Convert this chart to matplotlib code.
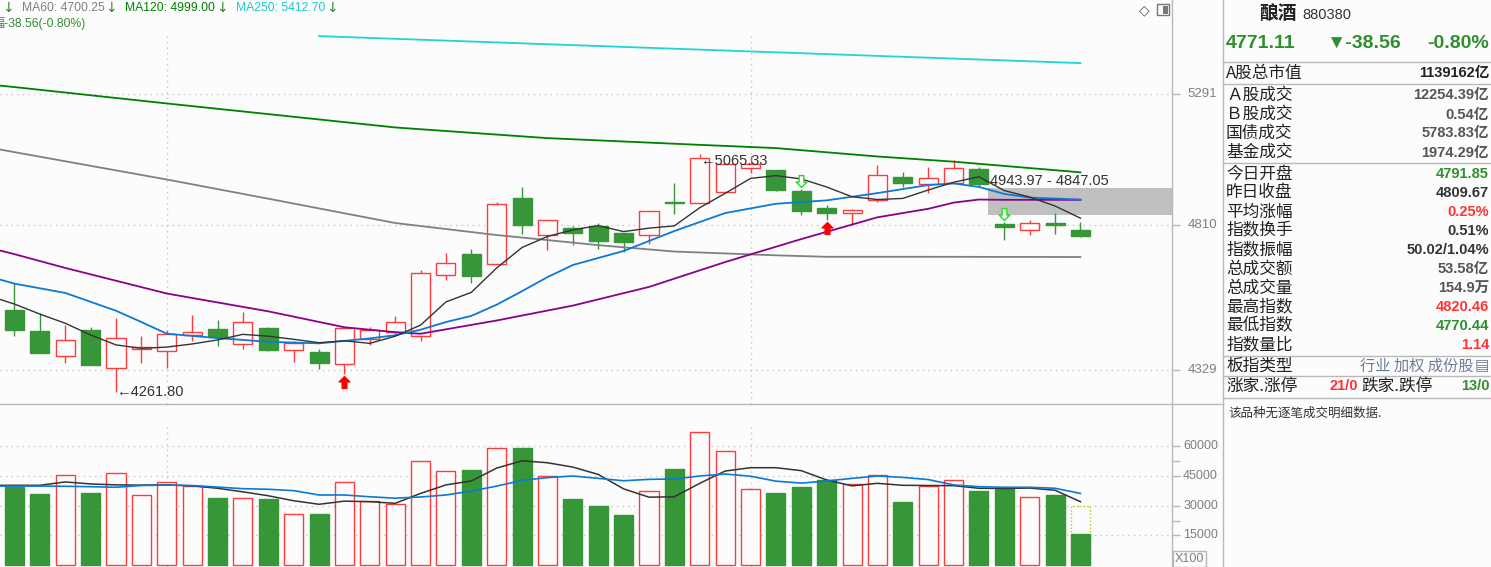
import matplotlib.pyplot as plt
import matplotlib.transforms as mtransforms
from matplotlib.lines import Line2D
from matplotlib.patches import Rectangle
from matplotlib.path import Path
from matplotlib.ticker import FixedLocator, NullLocator, NullFormatter

plt.rcParams['font.family'] = ['Liberation Sans', 'Noto Sans CJK SC', 'DejaVu Sans']

# daily bars, index 0 = leftmost candle
opens = [4523, 4454, 4372, 4457, 4337, 4397, 4389, 4442, 4460, 4412,
         4464, 4392, 4385, 4349, 4428, 4450, 4437, 4639, 4711, 4678,
         4907, 4775, 4800, 4808, 4783, 4775, 4891, 4887, 4928, 5016,
         5008, 4931, 4871, 4853, 4898, 4983, 4955, 4959, 5011, 4815,
         4794, 4818, 4791.85]
highs = [4611, 4514, 4473, 4467, 4496, 4438, 4457, 4506, 4490, 4515,
         4466, 4422, 4395, 4468, 4468, 4503, 4656, 4715, 4728, 4892,
         4946, 4828, 4808, 4817, 4783, 4859, 4960, 5065.33, 5032, 5057,
         5008, 4937, 4881, 4868, 5024, 5001, 5020, 5044, 5020, 4823,
         4829, 4852, 4820.46]
lows = [4438, 4383, 4352, 4346, 4261.80, 4352, 4337, 4420, 4406, 4395,
        4391, 4355, 4333, 4316, 4408, 4444, 4423, 4622, 4611, 4678,
        4780, 4725, 4741, 4728, 4716, 4746, 4851, 4887, 4928, 4997,
        4932, 4847, 4828, 4811, 4893, 4946, 4926, 4959, 4948, 4759,
        4776, 4780, 4770.44]
closes = [4457, 4383, 4425, 4346, 4430, 4401, 4444, 4451, 4434, 4483,
          4394, 4416, 4352, 4463, 4458, 4483, 4646, 4680, 4635, 4884,
          4812, 4828, 4784, 4756, 4753, 4859, 4889, 5053, 5028, 5030,
          4935, 4861, 4852, 4864, 4990, 4962, 4980, 5014, 4958, 4803,
          4819, 4809.67, 4771.11]
volumes = [39600, 35900, 45300, 36400, 46400, 35200, 41800, 39900, 33900, 33700,
           33400, 25600, 25800, 41800, 32400, 30700, 52400, 47400, 48000, 59000,
           59200, 44800, 33400, 29800, 25300, 37300, 48500, 67100, 57500, 38300,
           36400, 39400, 43000, 40800, 45300, 31900, 39900, 42800, 37400, 38400,
           34200, 35400, 15490]
vol_forecast = 29800

# moving averages, one value per day from index -1
ma_idx = list(range(-1, 43))
ma5 = [4569, 4542, 4509, 4479, 4441, 4409, 4398, 4402, 4412, 4425,
       4443, 4437, 4427, 4416, 4422, 4414, 4437, 4473, 4549, 4581,
       4663, 4733, 4771, 4794, 4809, 4788, 4800, 4808, 4872, 4923,
       4977, 4987, 4975, 4946, 4911, 4901, 4905, 4935, 4963, 4983,
       4933, 4910, 4878, 4835]
vol_ma5 = [40300, 40300, 40300, 42000, 41000, 40500, 40400, 40500, 40000, 38800,
           37000, 35000, 32500, 30700, 32300, 32000, 31200, 36200, 40500, 42500,
           49000, 52700, 51700, 49500, 45800, 38500, 34300, 34500, 41300, 47500,
           49200, 49200, 47700, 43000, 40000, 41300, 40300, 40200, 40100, 38800,
           38700, 38900, 37800, 32000]
vol_ma10 = [39900, 39900, 39900, 39800, 39600, 39300, 40200, 40400, 40200, 39400,
            38600, 38300, 37600, 35400, 35400, 34500, 33800, 34400, 35400, 37400,
            39900, 42800, 44200, 45000, 43800, 42600, 43300, 43500, 45000, 46000,
            44900, 42400, 41400, 42500, 43800, 45000, 44300, 43200, 40500, 39600,
            39300, 39300, 38800, 36200]

# longer averages, read at a few days
ma10_idx = [-1, 0, 2, 4, 5, 6, 8, 10, 12, 13, 14, 15, 16, 17, 18, 19, 20, 21, 22,
            24, 26, 28, 30, 32, 34, 36, 37, 38, 39, 40, 42]
ma10 = [4634, 4610, 4579, 4520, 4483, 4445, 4431, 4419, 4414, 4422, 4430, 4440,
        4458, 4483, 4503, 4540, 4585, 4632, 4673, 4721, 4790, 4853, 4886, 4898,
        4924, 4953, 4959, 4946, 4921, 4908, 4901]
ma20_idx = [-1, 0, 2, 6, 10, 13, 15, 16, 19, 22, 25, 28, 31, 34, 36, 37, 38, 39, 42]
ma20 = [4732, 4710, 4663, 4577, 4518, 4466, 4450, 4445, 4488, 4537, 4599, 4683,
        4762, 4838, 4868, 4890, 4901, 4900, 4900]
ma60_idx = [-1, 0, 6, 10, 15, 19, 23, 26, 30, 32, 36, 42]
ma60 = [5090, 5073, 4973, 4904, 4818, 4776, 4741, 4719, 4706, 4701, 4701, 4700.25]
ma120_idx = [-1, 0, 6, 15, 21, 27, 30, 34, 37, 42]
ma120 = [5329, 5319, 5256, 5165, 5125, 5100, 5088, 5057, 5038, 4999.00]
ma250_idx = [12, 27, 42]
ma250 = [5520, 5466, 5412.70]

buy_marks = [13, 32]
sell_marks = [31, 39]
month_lines = [6, 29]
gap_start = 38
gap_low, gap_high = 4847.05, 4943.97
low_mark, high_mark = 4, 27

price_ticks = [4329, 4810, 5291]
vol_ticks = [15000, 30000, 45000, 60000]

header_items = [('↓', '#2e8b2e'), ('MA60: 4700.25', '#808080'), ('↓', '#2e8b2e'),
                ('MA120: 4999.00', '#008000'), ('↓', '#2e8b2e'),
                ('MA250: 5412.70', '#20c8c8'), ('↓', '#2e8b2e')]

name, code = '酿酒', '880380'
last_price, change, change_pct = '4771.11', '▼-38.56', '-0.80%'
info_labels = ['A股总市值', 'Ａ股成交', 'Ｂ股成交', '国债成交', '基金成交',
               '今日开盘', '昨日收盘', '平均涨幅', '指数换手', '指数振幅',
               '总成交额', '总成交量', '最高指数', '最低指数', '指数量比']
info_values = ['1139162亿', '12254.39亿', '0.54亿', '5783.83亿', '1974.29亿',
               '4791.85', '4809.67', '0.25%', '0.51%', '50.02/1.04%',
               '53.58亿', '154.9万', '4820.46', '4770.44', '1.14']
info_colors = ['#222222', '#555555', '#555555', '#555555', '#555555',
               '#2f8f2f', '#333333', '#ff3333', '#333333', '#333333',
               '#555555', '#555555', '#ff3333', '#2f8f2f', '#ff3333']

W, H = 1491, 567
BG = '#fcfcfc'
RED = '#ff3b3b'
GREEN = '#379637'
GRID = '#c4c4c4'
AXC = '#b9b9b9'
DOT = (0, (1, 3))


def fx(x):
    return x / W


def fy(y):
    return 1 - y / H


fig = plt.figure(figsize=(W / 100, H / 100), dpi=100, facecolor=BG)
ax = fig.add_axes([0, fy(404), fx(1172), 404 / H])
axv = fig.add_axes([0, 0, fx(1172), 163 / H])
XL = (-0.571, 45.607)
for a in (ax, axv):
    a.set_facecolor(BG)
    for s in a.spines.values():
        s.set_visible(False)
    a.set_xlim(*XL)
    a.set_xticks([])

# ---- price panel ----
ax.set_yscale('log')
ax.set_ylim(4223.4, 5667)
ax.yaxis.tick_right()
ax.yaxis.set_major_locator(FixedLocator(price_ticks))
ax.yaxis.set_minor_locator(NullLocator())
ax.yaxis.set_major_formatter(NullFormatter())
ax.tick_params(axis='y', direction='out', length=6, width=1, color=AXC,
               labelright=False, labelleft=False)
ax.grid(axis='y', color=GRID, linestyle=DOT, linewidth=1)
for m in month_lines:
    ax.axvline(m, ymin=0, ymax=1 - 35 / 404, color=GRID, ls=DOT, lw=1)

w = 0.75
for i, (o, h, l, c) in enumerate(zip(opens, highs, lows, closes)):
    up = c >= o
    col = RED if up else GREEN
    lo_b, hi_b = min(o, c), max(o, c)
    if up:
        ax.vlines(i, hi_b, h, color=col, lw=1, zorder=3)
        ax.vlines(i, l, lo_b, color=col, lw=1, zorder=3)
        ax.add_patch(Rectangle((i - w / 2, lo_b), w, hi_b - lo_b, facecolor=BG,
                               edgecolor=col, lw=1, zorder=4))
    else:
        ax.vlines(i, l, h, color=col, lw=1, zorder=3)
        ax.add_patch(Rectangle((i - w / 2, lo_b), w, hi_b - lo_b, facecolor=col,
                               edgecolor=col, lw=1, zorder=4))

# price gap
gx = gap_start + w / 2
ax.add_patch(Rectangle((gx, gap_low), XL[1] - gx, gap_high - gap_low,
                       facecolor='#c0c0c0', edgecolor='none', zorder=2))
ax.text(gx + 0.05, gap_high, f'{gap_high:.2f} - {gap_low:.2f}', fontsize=10.5,
        color='#333333', ha='left', va='bottom', zorder=7)

ax.plot(ma250_idx, ma250, color='#22d4d4', lw=1.3, zorder=5)
ax.plot(ma120_idx, ma120, color='#008000', lw=1.3, zorder=5)
ax.plot(ma60_idx, ma60, color='#808080', lw=1.3, zorder=5)
ax.plot(ma20_idx, ma20, color='#8b008b', lw=1.3, zorder=5)
ax.plot(ma10_idx, ma10, color='#0a7ad6', lw=1.3, zorder=5)
ax.plot(ma_idx, ma5, color='#333333', lw=1.0, zorder=5)

# signal arrows
arrow = [(0, 1), (0.9, 0.1), (0.4, 0.1), (0.4, -1), (-0.4, -1), (-0.4, 0.1),
         (-0.9, 0.1), (0, 1)]
up_arrow = Path(arrow, closed=True)
down_arrow = Path([(x, -y) for x, y in arrow], closed=True)
ax.plot(buy_marks, [lows[i] for i in buy_marks], ls='none', marker=up_arrow,
        ms=8.5, color='#ff0000', mec='#ff0000', zorder=6,
        transform=mtransforms.offset_copy(ax.transData, fig=fig, y=-5.8, units='points'))
ax.plot(sell_marks, [highs[i] for i in sell_marks], ls='none', marker=down_arrow,
        ms=8.5, mfc='white', mec='#22dd22', mew=1, zorder=6,
        transform=mtransforms.offset_copy(ax.transData, fig=fig, y=5.8, units='points'))

ax.text(low_mark, lows[low_mark], f'←{lows[low_mark]:.2f}', fontsize=10.5,
        color='#333333', ha='left', va='center', zorder=7)
ax.text(high_mark, highs[high_mark], f'←{highs[high_mark]:.2f}', fontsize=10.5,
        color='#333333', ha='left', va='top', zorder=7)

tr = mtransforms.blended_transform_factory(fig.transFigure, ax.transData)
for v in price_ticks:
    ax.text(fx(1217), v, f'{v}', transform=tr, ha='right', va='center',
            fontsize=9.5, color='#7f7f7f')

# ---- volume panel ----
axv.set_ylim(-1000, 81400)
faces = [BG if c >= o else GREEN for o, c in zip(opens, closes)]
edges = [RED if c >= o else GREEN for o, c in zip(opens, closes)]
axv.bar(len(volumes) - 1, vol_forecast, width=w, fill=False, edgecolor='#c8c800',
        linestyle=(0, (1, 1.5)), lw=1, zorder=2)
axv.bar(range(len(volumes)), volumes, width=w, color=faces, edgecolor=edges,
        linewidth=1, zorder=3)
axv.plot(ma_idx, vol_ma5, color='#333333', lw=1.1, zorder=5)
axv.plot(ma_idx, vol_ma10, color='#0a7ad6', lw=1.2, zorder=5)
axv.yaxis.tick_right()
axv.yaxis.set_major_locator(FixedLocator(vol_ticks))
axv.yaxis.set_minor_locator(FixedLocator([22500, 52500]))
axv.yaxis.set_major_formatter(NullFormatter())
axv.tick_params(axis='y', which='both', direction='out', length=6, width=1,
                color=AXC, labelright=False, labelleft=False)
axv.grid(axis='y', which='major', color=GRID, linestyle=DOT, linewidth=1)
for m in month_lines:
    axv.axvline(m, ymin=0, ymax=1 - 19 / 163, color=GRID, ls=DOT, lw=1)
trv = mtransforms.blended_transform_factory(fig.transFigure, axv.transData)
for v in vol_ticks:
    axv.text(fx(1218), v, f'{v}', transform=trv, ha='right', va='center',
             fontsize=9, color='#7f7f7f')
fig.add_artist(Rectangle((fx(1173), fy(567)), fx(33), 16 / H, transform=fig.transFigure,
                         facecolor='none', edgecolor=AXC, lw=1))
fig.text(fx(1189.5), fy(559), 'X100', ha='center', va='center', fontsize=9,
         color='#7f7f7f')


# ---- frame lines ----
def hline(y, x0, x1, color=AXC):
    fig.add_artist(Line2D([fx(x0), fx(x1)], [fy(y), fy(y)],
                          transform=fig.transFigure, color=color, lw=1))


def vline(x, y0, y1, color=AXC):
    fig.add_artist(Line2D([fx(x), fx(x)], [fy(y0), fy(y1)],
                          transform=fig.transFigure, color=color, lw=1))


vline(1172, 0, 567)
vline(1223, 0, 567)
hline(404, 0, 1223)
for y in [62, 84, 163, 356, 376, 398]:
    hline(y, 1223, 1491)

# top-left header, laid out piece by piece
renderer = fig.canvas.get_renderer()
hx = 2
for s, col in header_items:
    if s == '↓':
        t = fig.text(fx(hx), fy(8), s, fontsize=10, color=col, ha='left',
                     va='center', family='DejaVu Sans')
        gap = 8
    else:
        t = fig.text(fx(hx), fy(8), s, fontsize=8.7, color=col, ha='left',
                     va='center')
        gap = 1
    hx = t.get_window_extent(renderer).x1 + gap
fig.text(fx(-8), fy(23), '幅-38.56(-0.80%)', fontsize=8.7, color='#2f8f2f',
         ha='left', va='center')

# chart icons
fig.text(fx(1144.5), fy(10), '◇', fontsize=10, color='#555555', ha='center',
         va='center', family='DejaVu Sans')
fig.add_artist(Rectangle((fx(1157), fy(15)), fx(12), 11 / H, transform=fig.transFigure,
                         facecolor='none', edgecolor='#777777', lw=1))
fig.add_artist(Rectangle((fx(1163), fy(13.5)), fx(4.5), 8 / H, transform=fig.transFigure,
                         facecolor='#777777', edgecolor='none'))

# ---- info panel ----
fig.text(fx(1259), fy(14), name, fontsize=13.5, fontweight='bold', color='#222222',
         ha='left', va='center', family='Noto Sans CJK SC')
fig.text(fx(1302), fy(15), code, fontsize=10.5, color='#333333', ha='left', va='center')
fig.text(fx(1226), fy(43), last_price, fontsize=14, fontweight='bold', color='#2f8f2f',
         ha='left', va='center')
fig.text(fx(1326), fy(43), change, fontsize=14, fontweight='bold', color='#2f8f2f',
         ha='left', va='center')
fig.text(fx(1489), fy(43), change_pct, fontsize=14, fontweight='bold', color='#2f8f2f',
         ha='right', va='center')

row_y = [73, 95.5, 114.5, 133.5, 152.5] + [174 + 19 * k for k in range(10)]
for lab, val, col, y in zip(info_labels, info_values, info_colors, row_y):
    fig.text(fx(1226), fy(y), lab, fontsize=12, color='#222222', ha='left',
             va='center', family='Noto Sans CJK SC')
    fig.text(fx(1489), fy(y), val, fontsize=10.5, fontweight='bold', color=col,
             ha='right', va='center')

fig.text(fx(1226), fy(366), '板指类型', fontsize=12, color='#222222', ha='left',
         va='center', family='Noto Sans CJK SC')
fig.text(fx(1473), fy(366), '行业 加权 成份股', fontsize=11, color='#6e7c99',
         ha='right', va='center', family='Noto Sans CJK SC')
fig.text(fx(1482), fy(366), '▤', fontsize=11, color='#6e7c99', ha='center',
         va='center', family='DejaVu Sans')
fig.text(fx(1226), fy(386), '涨家.涨停', fontsize=12, color='#222222', ha='left',
         va='center', family='Noto Sans CJK SC')
fig.text(fx(1330), fy(386), '21/0', fontsize=10.5, fontweight='bold', color='#ff3333',
         ha='left', va='center')
fig.text(fx(1361), fy(386), '跌家.跌停', fontsize=12, color='#222222', ha='left',
         va='center', family='Noto Sans CJK SC')
fig.text(fx(1490), fy(386), '13/0', fontsize=10.5, fontweight='bold', color='#2f8f2f',
         ha='right', va='center')
fig.text(fx(1228), fy(413), '该品种无逐笔成交明细数据.', fontsize=9, color='#333333',
         ha='left', va='center', family='Noto Sans CJK SC')

fig.savefig('out.png', dpi=100, facecolor=BG)
